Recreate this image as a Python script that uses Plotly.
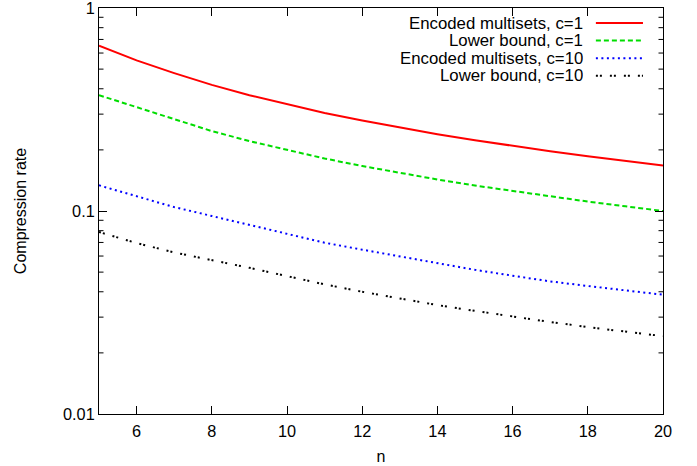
import plotly.graph_objects as go

n_values = list(range(5, 21))

encoded_c1 = [0.652, 0.552, 0.478, 0.418, 0.372, 0.335, 0.304, 0.279, 0.258,
              0.239, 0.223, 0.209, 0.197, 0.186, 0.176, 0.1675]
lower_c1 = [0.372, 0.325, 0.283, 0.2475, 0.221, 0.1995, 0.1814, 0.1665, 0.1537,
            0.143, 0.1335, 0.1253, 0.118, 0.1113, 0.1055, 0.100]
encoded_c10 = [0.1338, 0.118, 0.1045, 0.0945, 0.0855, 0.0778, 0.0698, 0.0645,
               0.0596, 0.0551, 0.0513, 0.0480, 0.0450, 0.0427, 0.0406, 0.0387]
lower_c10 = [0.0788, 0.0695, 0.0625, 0.0575, 0.0525, 0.0478, 0.0435, 0.0400,
             0.0370, 0.0344, 0.0322, 0.0302, 0.0284, 0.0268, 0.0254, 0.0242]

series_names = ["Encoded multisets, c=1", "Lower bound, c=1",
                "Encoded multisets, c=10", "Lower bound, c=10"]
series_values = [encoded_c1, lower_c1, encoded_c10, lower_c10]
series_colors = ["#ff0000", "#00dd00", "#0000ff", "#000000"]
series_dash = ["solid", "5px,3px", "2px,3.5px", "2px,2px,2px,8px"]

x_tick_vals = [6, 8, 10, 12, 14, 16, 18, 20]
y_tick_vals = [0.01, 0.1, 1]
y_tick_text = ["0.01", "0.1", "1"]
y_minor_vals = [m * d for d in (0.01, 0.1) for m in range(2, 10)]

x_title = "n"
y_title = "Compression rate"

FONT = "Liberation Sans, Arial, sans-serif"
PLOT_W = 697 - 99 - 34
MINOR_LEN = 4.5 / PLOT_W

fig = go.Figure()
for name, vals, col, dash in zip(series_names, series_values, series_colors, series_dash):
    fig.add_trace(go.Scatter(x=n_values, y=vals, mode="lines", name=name,
                             line=dict(color=col, width=2, dash=dash),
                             showlegend=False))

# minor log ticks (inside, on both left and right borders)
for v in y_minor_vals:
    for x0, x1 in ((0, MINOR_LEN), (1 - MINOR_LEN, 1)):
        fig.add_shape(type="line", xref="x domain", yref="y", x0=x0, x1=x1,
                      y0=v, y1=v, layer="above",
                      line=dict(color="black", width=1))

# gnuplot-style key: right-aligned text, line sample to the right
row_top = 0.963
row_step = 0.0433
for i, (name, col, dash) in enumerate(zip(series_names, series_colors, series_dash)):
    yy = row_top - i * row_step
    fig.add_annotation(x=0.858, y=yy, xref="paper", yref="paper", text=name,
                       showarrow=False, xanchor="right", yanchor="middle",
                       xshift=2, height=17,
                       font=dict(family=FONT, size=16.8, color="black"))
    fig.add_shape(type="line", xref="paper", yref="paper",
                  x0=0.881, x1=0.9645, y0=yy, y1=yy,
                  line=dict(color=col, width=2, dash=dash))

axis_common = dict(showline=True, linecolor="black", linewidth=1, mirror="ticks",
                   ticks="inside", tickcolor="black", tickwidth=1,
                   showgrid=False, zeroline=False,
                   automargin=False, ticklabeloverflow="allow",
                   tickfont=dict(family=FONT, size=16.3, color="black"),
                   title_font=dict(family=FONT, size=16, color="black"))

fig.update_layout(
    xaxis=dict(range=[5, 20], tickmode="array", tickvals=x_tick_vals, ticklen=8,
               ticklabelstandoff=2, title=dict(text=x_title, standoff=12),
               **axis_common),
    yaxis=dict(type="log", range=[-2, 0], tickmode="array", tickvals=y_tick_vals,
               ticktext=y_tick_text, ticklen=8,
               title=dict(text=y_title, standoff=32), **axis_common),
    width=697, height=466, margin=dict(l=99, r=34, t=8, b=52),
    paper_bgcolor="white", plot_bgcolor="white",
    font=dict(family=FONT, size=16, color="black"),
)

fig.write_html("out.html", config={"displayModeBar": False},
               post_script="document.body.style.margin='0';")
